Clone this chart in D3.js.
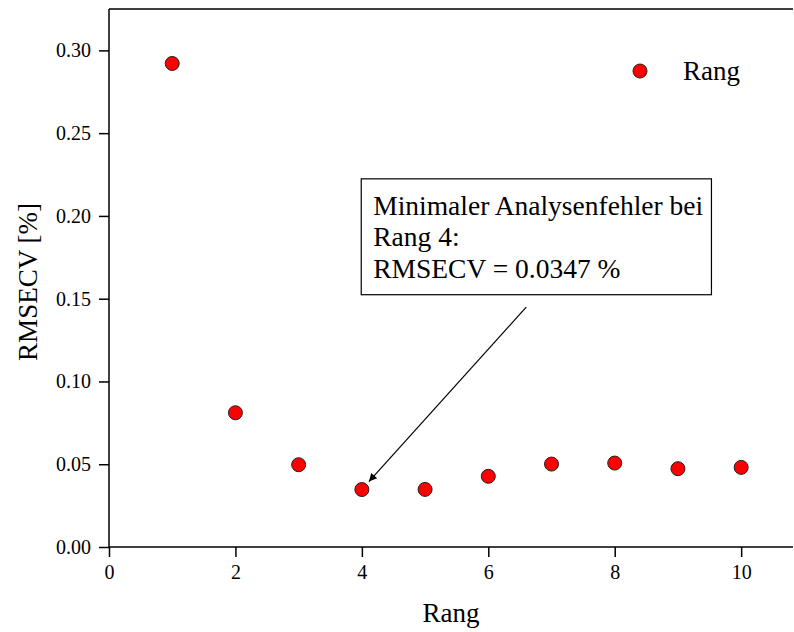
<!DOCTYPE html>
<html>
<head>
<meta charset="utf-8">
<script src="https://cdn.jsdelivr.net/npm/d3@7"></script>
<style>
  body { margin: 0; background: #fff; }
  svg { display: block; font-family: "Times New Roman", "Liberation Serif", serif; }
</style>
</head>
<body>
<svg id="chart" width="794" height="632"></svg>
<script>
// data
var ranks = [1, 2, 3, 4, 5, 6, 7, 8, 9, 10];
var rmsecv = [0.2921, 0.0811, 0.0497, 0.0347, 0.0348, 0.0427, 0.0501, 0.0507, 0.0473, 0.0481];
var xTicks = [0, 2, 4, 6, 8, 10];
var xMinor = [1, 3, 5, 7, 9];
var yTicks = [0, 0.05, 0.10, 0.15, 0.20, 0.25, 0.30];
var yMinor = [0.025, 0.075, 0.125, 0.175, 0.225, 0.275];
var noteLines = ["Minimaler Analysenfehler bei", "Rang 4:", "RMSECV = 0.0347 %"];

var width = 794, height = 632;
var margin = { top: 9, right: 1, bottom: 85, left: 109 };

var svg = d3.select("#chart");

var x = d3.scaleLinear().domain([0, 10.82]).range([margin.left, width - margin.right]);
var y = d3.scaleLinear().domain([0, 0.325]).range([height - margin.bottom, margin.top]);

// top frame line
svg.append("line")
    .attr("x1", x(0)).attr("x2", x(10.82))
    .attr("y1", y(0.325)).attr("y2", y(0.325))
    .attr("stroke", "#000").attr("stroke-width", 1.5);

// x axis
var gx = svg.append("g").attr("transform", "translate(0," + y(0) + ")");
gx.call(d3.axisBottom(x).tickValues(xMinor).tickSize(5).tickFormat(""));
gx.call(d3.axisBottom(x).tickValues(xTicks).tickSize(10).tickPadding(8).tickFormat(d3.format("d")));

// y axis
var gy = svg.append("g").attr("transform", "translate(" + x(0) + ",0)");
gy.call(d3.axisLeft(y).tickValues(yMinor).tickSize(5).tickFormat(""));
gy.call(d3.axisLeft(y).tickValues(yTicks).tickSize(10).tickPadding(8).tickFormat(d3.format(".2f")));

svg.selectAll(".domain").attr("stroke-width", 1.5);
svg.selectAll(".tick line").attr("stroke-width", 1.5);
svg.selectAll(".tick text")
    .attr("font-family", "'Times New Roman', 'Liberation Serif', serif")
    .attr("font-size", 20).attr("fill", "#000");
// drop the outer end ticks d3 draws on the domain path
gx.selectAll(".domain").attr("d", "M" + x(0) + ",0H" + x(10.82));
gy.selectAll(".domain").attr("d", "M0," + y(0) + "V" + y(0.325));

// axis titles
svg.append("text")
    .attr("x", (x(0) + x(10.82)) / 2).attr("y", 622)
    .attr("text-anchor", "middle").attr("font-size", 27)
    .text("Rang");

svg.append("text")
    .attr("transform", "translate(37," + ((y(0) + y(0.325)) / 2 + 4) + ") rotate(-90)")
    .attr("text-anchor", "middle").attr("font-size", 27)
    .text("RMSECV [%]");

// points
svg.append("g").selectAll("circle")
    .data(ranks).enter()
    .append("circle")
    .attr("cx", function (d) { return x(d); })
    .attr("cy", function (d, i) { return y(rmsecv[i]); })
    .attr("r", 7)
    .attr("fill", "#ff0000")
    .attr("stroke", "#222")
    .attr("stroke-width", 1);

// legend
svg.append("circle").attr("cx", 640).attr("cy", 71).attr("r", 7)
    .attr("fill", "#ff0000").attr("stroke", "#222").attr("stroke-width", 1);
svg.append("text").attr("x", 683).attr("y", 80).attr("font-size", 27).text("Rang");

// annotation box
var boxL = x(3.99), boxR = x(9.53), boxT = y(0.2224), boxB = y(0.1524);
svg.append("rect")
    .attr("x", boxL).attr("y", boxT)
    .attr("width", boxR - boxL).attr("height", boxB - boxT)
    .attr("fill", "#fff").attr("stroke", "#000").attr("stroke-width", 1.2);

svg.append("g").selectAll("text")
    .data(noteLines).enter()
    .append("text")
    .attr("x", boxL + 12)
    .attr("y", function (d, i) { return boxT + 36 + i * 31.5; })
    .attr("font-size", 27.5)
    .text(function (d) { return d; });

// arrow to the minimum
svg.append("defs").append("marker")
    .attr("id", "arrow")
    .attr("viewBox", "0 0 10 10")
    .attr("refX", 10).attr("refY", 5)
    .attr("markerWidth", 12).attr("markerHeight", 8)
    .attr("markerUnits", "userSpaceOnUse")
    .attr("orient", "auto")
    .append("path").attr("d", "M0,0L10,5L0,10z").attr("fill", "#000");

svg.append("line")
    .attr("x1", x(6.6)).attr("y1", y(0.1449))
    .attr("x2", x(4) + 7).attr("y2", y(rmsecv[3]) - 8)
    .attr("stroke", "#000").attr("stroke-width", 1.2)
    .attr("marker-end", "url(#arrow)");
</script>
</body>
</html>
